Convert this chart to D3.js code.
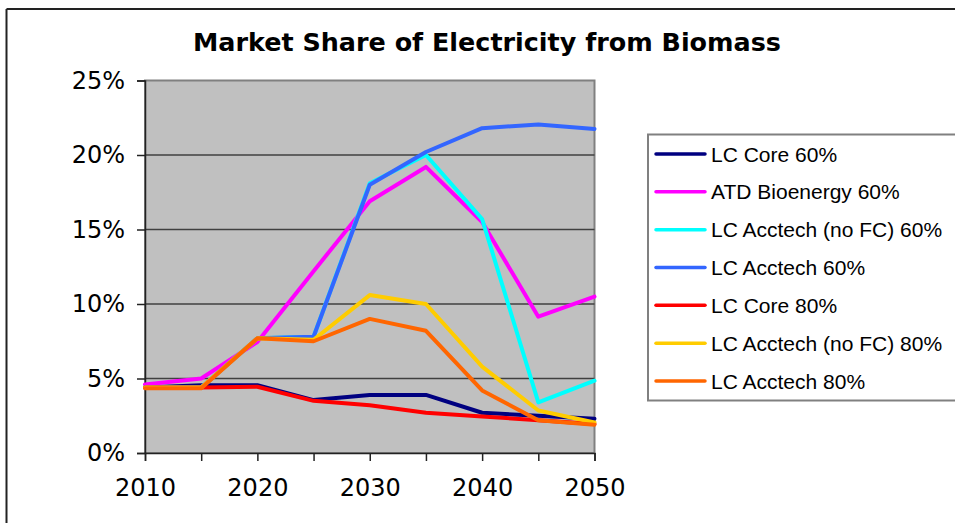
<!DOCTYPE html>
<html>
<head>
<meta charset="utf-8">
<script src="https://cdn.jsdelivr.net/npm/d3@7"></script>
<style>
  html, body { margin: 0; padding: 0; background: #fff; }
  svg { display: block; }
</style>
</head>
<body>
<svg id="chart" width="955" height="523"></svg>
<script>
const title = "Market Share of Electricity from Biomass";
const years = [2010, 2015, 2020, 2025, 2030, 2035, 2040, 2045, 2050];
const xTickLabels = [2010, 2020, 2030, 2040, 2050];
const yTickValues = [0, 5, 10, 15, 20, 25];

const seriesNames = [
  "LC Core 60%",
  "ATD Bioenergy 60%",
  "LC Acctech (no FC) 60%",
  "LC Acctech 60%",
  "LC Core 80%",
  "LC Acctech (no FC) 80%",
  "LC Acctech 80%"
];
const seriesColors = ["#000080", "#FF00FF", "#00FFFF", "#3366FF", "#FF0000", "#FFCC00", "#FF6600"];

const lcCore60       = [4.4, 4.55, 4.55, 3.55, 3.9, 3.9, 2.7, 2.5, 2.3];
const atdBio60       = [4.6, 5.0, 7.45, 12.2, 16.9, 19.2, 15.5, 9.15, 10.5];
const lcAccNoFC60    = [4.4, 4.4, 7.7, 7.8, 18.1, 20.0, 15.7, 3.4, 4.85];
const lcAcc60        = [4.4, 4.4, 7.7, 7.8, 18.0, 20.2, 21.8, 22.05, 21.75];
const lcCore80       = [4.4, 4.4, 4.45, 3.5, 3.2, 2.7, 2.45, 2.2, 1.95];
const lcAccNoFC80    = [4.4, 4.4, 7.7, 7.6, 10.6, 10.0, 5.8, 2.85, 2.05];
const lcAcc80        = [4.35, 4.35, 7.7, 7.5, 9.0, 8.2, 4.2, 2.2, 1.9];

const seriesValues = [lcCore60, atdBio60, lcAccNoFC60, lcAcc60, lcCore80, lcAccNoFC80, lcAcc80];

const svg = d3.select("#chart");

// outer chart frame (top and left edges visible)
svg.append("line").attr("x1", 6.5).attr("x2", 955).attr("y1", 9).attr("y2", 9)
  .attr("stroke", "#222").attr("stroke-width", 2);
svg.append("line").attr("x1", 6.5).attr("x2", 6.5).attr("y1", 9).attr("y2", 523)
  .attr("stroke", "#222").attr("stroke-width", 2);

// title
const t = svg.append("text")
  .attr("x", 487).attr("y", 51)
  .attr("text-anchor", "middle")
  .attr("font-family", "DejaVu Sans, Verdana, sans-serif")
  .attr("font-weight", "bold")
  .attr("font-size", 25)
  .attr("fill", "#000")
  .text(title);
t.attr("textLength", 588).attr("lengthAdjust", "spacingAndGlyphs");

const plot = { left: 145, right: 594.5, top: 80.5, bottom: 453 };

const x = d3.scaleLinear().domain([2010, 2050]).range([plot.left, plot.right]);
const y = d3.scaleLinear().domain([0, 25]).range([plot.bottom, plot.top]);

// plot background
svg.append("rect")
  .attr("x", plot.left).attr("y", plot.top)
  .attr("width", plot.right - plot.left).attr("height", plot.bottom - plot.top)
  .attr("fill", "#C0C0C0")
  .attr("stroke", "#808080").attr("stroke-width", 2);

// gridlines
svg.append("g").selectAll("line")
  .data(yTickValues.filter(v => v > 0 && v < 25))
  .join("line")
  .attr("x1", plot.left).attr("x2", plot.right)
  .attr("y1", d => y(d)).attr("y2", d => y(d))
  .attr("stroke", "#404040").attr("stroke-width", 1.5);

// y axis
const yAxis = d3.axisLeft(y).tickValues(yTickValues).tickFormat(d => d + "%").tickSize(8).tickPadding(12);
const gy = svg.append("g").attr("transform", `translate(${plot.left},0)`).call(yAxis);
gy.select(".domain").attr("stroke", "#222").attr("stroke-width", 1.5);
gy.selectAll(".tick line").attr("stroke", "#222").attr("stroke-width", 1.5);
gy.selectAll(".tick text")
  .attr("font-family", "DejaVu Sans, Verdana, sans-serif")
  .attr("font-size", 24).attr("fill", "#000");

// x axis
const xAxis = d3.axisBottom(x).tickValues(years).tickFormat(d => xTickLabels.includes(d) ? d : "").tickSize(8).tickPadding(18);
const gx = svg.append("g").attr("transform", `translate(0,${plot.bottom})`).call(xAxis);
gx.select(".domain").attr("stroke", "#222").attr("stroke-width", 1.5);
gx.selectAll(".tick line").attr("stroke", "#222").attr("stroke-width", 1.5);
gx.selectAll(".tick text")
  .attr("font-family", "DejaVu Sans, Verdana, sans-serif")
  .attr("font-size", 24).attr("fill", "#000");

// lines
const line = d3.line().x((d, i) => x(years[i])).y(d => y(d));
svg.append("g").selectAll("path")
  .data(seriesValues)
  .join("path")
  .attr("d", d => line(d))
  .attr("fill", "none")
  .attr("stroke", (d, i) => seriesColors[i])
  .attr("stroke-width", 4)
  .attr("stroke-linejoin", "round")
  .attr("stroke-linecap", "round");

// legend
const legend = svg.append("g");
legend.append("rect")
  .attr("x", 648).attr("y", 134.5)
  .attr("width", 320).attr("height", 266)
  .attr("fill", "#fff").attr("stroke", "#808080").attr("stroke-width", 2);

const ly = d3.scalePoint().domain(seriesNames).range([154, 381]);
const items = legend.selectAll("g.item").data(seriesNames).join("g")
  .attr("class", "item")
  .attr("transform", d => `translate(0,${ly(d)})`);
items.append("line")
  .attr("x1", 656).attr("x2", 705).attr("y1", 0).attr("y2", 0)
  .attr("stroke", (d, i) => seriesColors[i]).attr("stroke-width", 3.5)
  .attr("stroke-linecap", "round");
items.append("text")
  .attr("x", 711).attr("y", 0).attr("dy", "0.36em")
  .attr("font-family", "Liberation Sans, Arial, sans-serif")
  .attr("font-size", 21).attr("fill", "#000")
  .text(d => d);
</script>
</body>
</html>
